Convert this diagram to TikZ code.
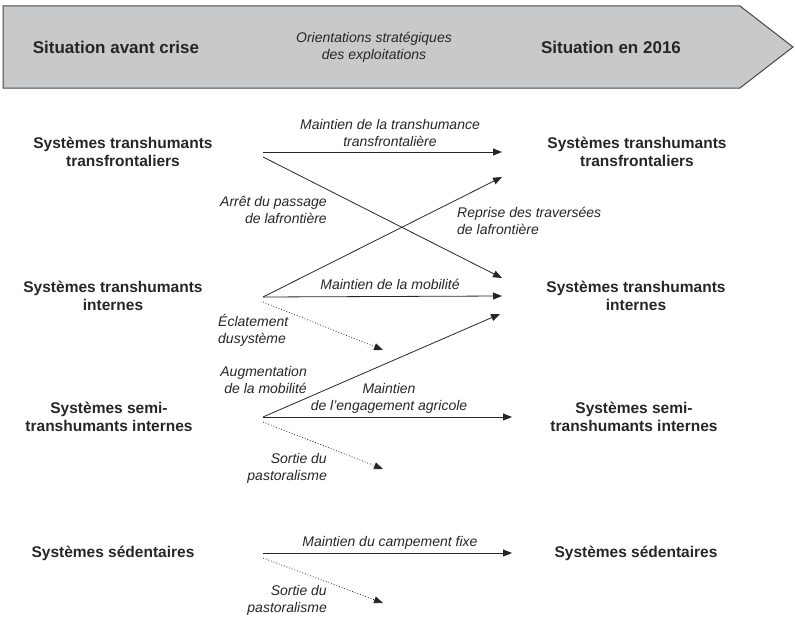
\documentclass[tikz,border=0pt]{standalone}
\usepackage{fontspec}
\setmainfont{Liberation Sans}
\usetikzlibrary{arrows.meta}
\definecolor{bandgray}{RGB}{200,201,203}
\definecolor{ink}{RGB}{38,38,38}
\begin{document}
\begin{tikzpicture}[x=1pt,y=-1pt,
    sys/.style={inner sep=0pt,align=center,text=ink,font=\fontsize{15.5}{18}\selectfont\bfseries},
    head/.style={inner sep=0pt,text=ink,font=\fontsize{17}{20}\selectfont\bfseries},
    lab/.style={inner sep=0pt,text=ink,font=\fontsize{14}{17}\selectfont\itshape},
    flow/.style={ink,line width=0.8pt,-{Triangle[length=9pt,width=7pt]}},
    exit/.style={ink,line width=0.8pt,dotted,-{Triangle[length=9pt,width=7pt]}}]
    \useasboundingbox (0,0) rectangle (795,618);
    % bandeau
    \filldraw[fill=bandgray,draw=ink!85,line width=1pt] (3,6) -- (740,6) -- (793,47) -- (740,88) -- (3,88) -- cycle;
    \node[head] (avant) at (116,47) {Situation avant crise};
    \node[lab,align=center] (orient) at (374,47) {Orientations stratégiques\\des exploitations};
    \node[head] (apres) at (611,47) {Situation en 2016};
    % systemes avant crise
    \node[sys] (avTT) at (123,152) {Systèmes transhumants\\transfrontaliers};
    \node[sys] (avTI) at (113,296) {Systèmes transhumants\\internes};
    \node[sys] (avSI) at (109,417) {Systèmes semi-\\transhumants internes};
    \node[sys] (avSE) at (113,553) {Systèmes sédentaires};
    % systemes en 2016
    \node[sys] (apTT) at (637,152) {Systèmes transhumants\\transfrontaliers};
    \node[sys] (apTI) at (636,296) {Systèmes transhumants\\internes};
    \node[sys] (apSI) at (634,417) {Systèmes semi-\\transhumants internes};
    \node[sys] (apSE) at (636,553) {Systèmes sédentaires};
    % departs et arrivees
    \coordinate (dTT) at (263,152);
    \coordinate (dTTx) at (263,157);
    \coordinate (dTI) at (263,297);
    \coordinate (dTIx) at (263,302);
    \coordinate (dSI) at (263,417);
    \coordinate (dSIx) at (263,422);
    \coordinate (dSE) at (263,553);
    \coordinate (dSEx) at (263,558);
    \coordinate (aTT) at (502,152);
    \coordinate (aTTx) at (502,177);
    \coordinate (aTI) at (502,296);
    \coordinate (aTIx) at (502,278);
    \coordinate (aTIy) at (500,314);
    \coordinate (aSI) at (512,417);
    \coordinate (aSE) at (512,553);
    \coordinate (fTI) at (383,350);
    \coordinate (fSI) at (383,469);
    \coordinate (fSE) at (383,603);
    % fleches
    \draw[flow] (dTT) -- (aTT);
    \draw[flow] (dTTx) -- (aTIx);
    \draw[flow] (dTI) -- (aTTx);
    \draw[flow] (dTI) -- (aTI);
    \draw[exit] (dTIx) -- (fTI);
    \draw[flow] (dSI) -- (aTIy);
    \draw[flow] (dSI) -- (aSI);
    \draw[exit] (dSIx) -- (fSI);
    \draw[flow] (dSE) -- (aSE);
    \draw[exit] (dSEx) -- (fSE);
    % etiquettes
    \node[lab,align=center] (l1) at (390,133) {Maintien de la transhumance\\transfrontalière};
    \node[lab,align=right,anchor=east] (l2) at (327,210) {Arrêt du passage\\de lafrontière};
    \node[lab,align=left,anchor=west] (l3) at (457,221) {Reprise des traversées\\de lafrontière};
    \node[lab] (l4) at (390,284) {Maintien de la mobilité};
    \node[lab,align=left,anchor=west] (l5) at (218,330) {Éclatement\\dusystème};
    \node[lab,align=right,anchor=east] (l6) at (307,380) {Augmentation\\de la mobilité};
    \node[lab,align=center] (l7) at (389,398) {Maintien\\de l’engagement agricole};
    \node[lab,align=right,anchor=east] (l8) at (327,468) {Sortie du\\pastoralisme};
    \node[lab] (l9) at (390,543) {Maintien du campement fixe};
    \node[lab,align=right,anchor=east] (l10) at (327,600) {Sortie du\\pastoralisme};
\end{tikzpicture}
\end{document}
